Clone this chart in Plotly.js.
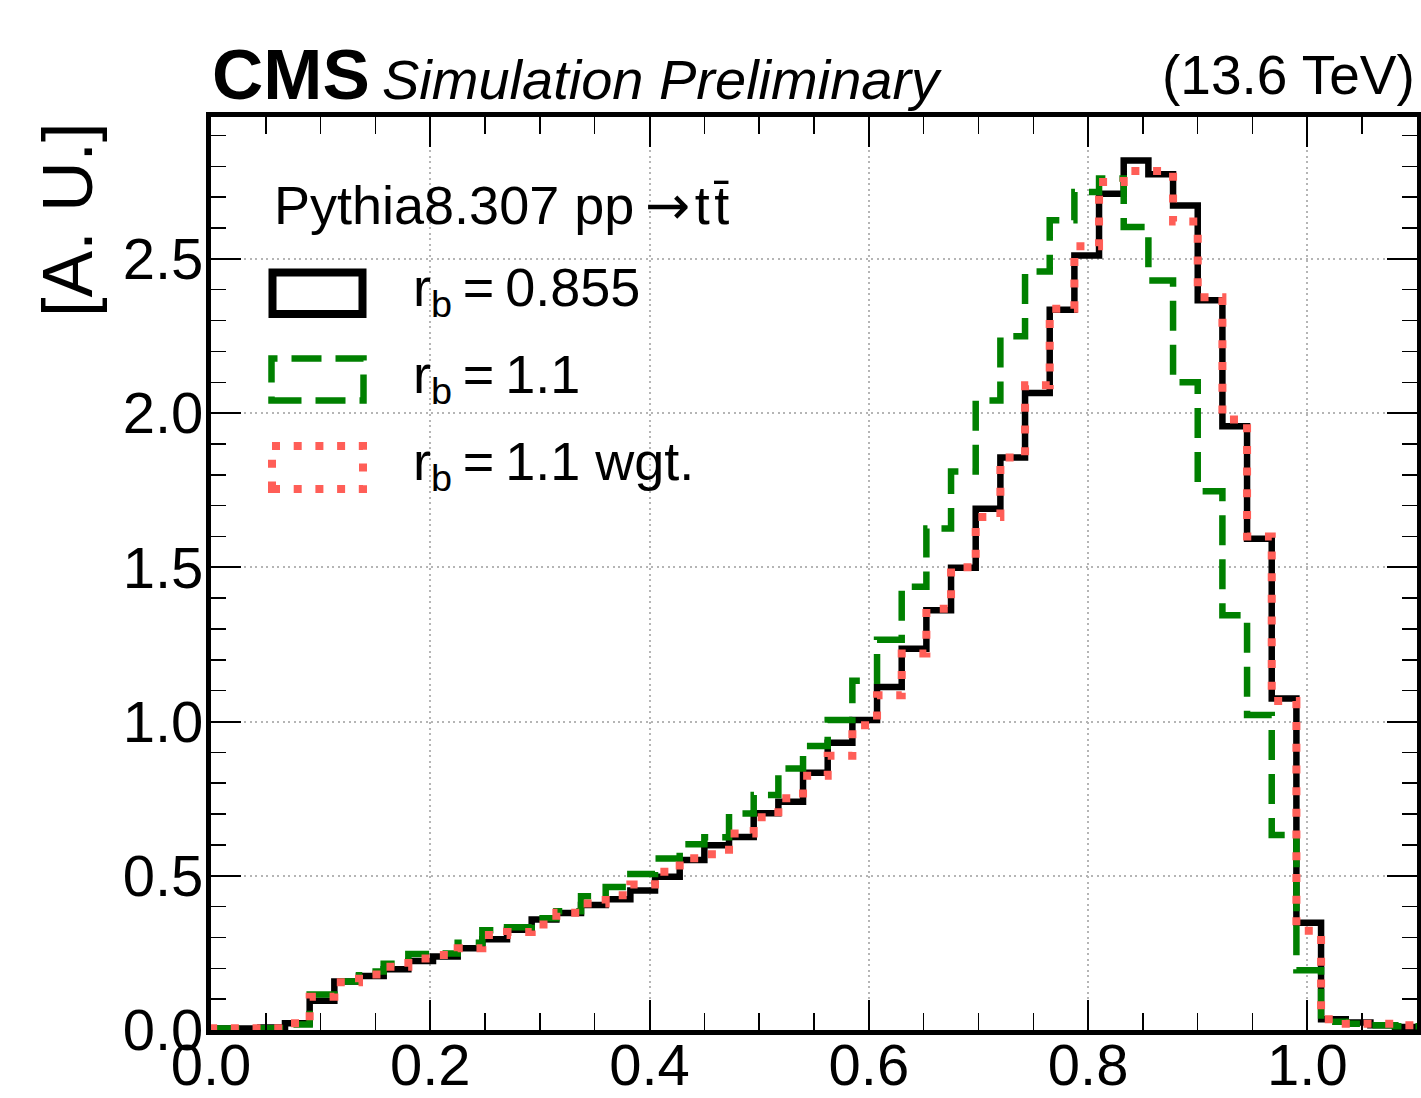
<!DOCTYPE html>
<html>
<head>
<meta charset="utf-8">
<script src="https://cdn.plot.ly/plotly-3.0.1.min.js"></script>
<style>
  html, body { margin: 0; padding: 0; background: #ffffff; }
  #plot { width: 1421px; height: 1098px; }
</style>
</head>
<body>
<div id="plot"></div>
<script>
// Normalised distributions of x_b, 49 bins of width 0.0225
const binEdges = [
  0, 0.0225, 0.045, 0.0675, 0.09, 0.1125, 0.135, 0.1575, 0.18, 0.2025,
  0.225, 0.2475, 0.27, 0.2925, 0.315, 0.3375, 0.36, 0.3825, 0.405, 0.4275,
  0.45, 0.4725, 0.495, 0.5175, 0.54, 0.5625, 0.585, 0.6075, 0.63, 0.6525,
  0.675, 0.6975, 0.72, 0.7425, 0.765, 0.7875, 0.81, 0.8325, 0.855, 0.8775,
  0.9, 0.9225, 0.945, 0.9675, 0.99, 1.0125, 1.035, 1.0575, 1.08, 1.1025
];

// r_b = 0.855
const rb0855 = [
  0.005, 0.005, 0.008, 0.022, 0.095, 0.157, 0.175, 0.197, 0.224, 0.238,
  0.265, 0.294, 0.325, 0.358, 0.379, 0.405, 0.424, 0.452, 0.497, 0.551,
  0.599, 0.626, 0.703, 0.740, 0.834, 0.931, 1.005, 1.112, 1.236, 1.361,
  1.499, 1.690, 1.856, 2.065, 2.335, 2.511, 2.711, 2.819, 2.774, 2.673,
  2.366, 1.957, 1.593, 1.075, 0.348, 0.035, 0.024, 0.015, 0.010
];

// r_b = 1.1
const rb11 = [
  0.005, 0.005, 0.006, 0.018, 0.115, 0.157, 0.190, 0.215, 0.246, 0.248,
  0.283, 0.323, 0.333, 0.362, 0.385, 0.434, 0.464, 0.506, 0.556, 0.602,
  0.625, 0.702, 0.762, 0.848, 0.921, 1.005, 1.132, 1.265, 1.437, 1.626,
  1.811, 2.041, 2.249, 2.459, 2.625, 2.717, 2.761, 2.603, 2.430, 2.100,
  1.747, 1.345, 1.021, 0.632, 0.194, 0.027, 0.020, 0.015, 0.012
];

// r_b = 1.1, reweighted
const rb11wgt = [
  0.006, 0.006, 0.006, 0.022, 0.108, 0.155, 0.180, 0.205, 0.232, 0.243,
  0.265, 0.308, 0.318, 0.342, 0.380, 0.410, 0.437, 0.472, 0.513, 0.557,
  0.570, 0.637, 0.690, 0.751, 0.824, 0.889, 0.988, 1.085, 1.221, 1.366,
  1.500, 1.663, 1.856, 2.090, 2.338, 2.541, 2.749, 2.785, 2.785, 2.621,
  2.376, 1.979, 1.600, 1.067, 0.322, 0.035, 0.020, 0.020, 0.015
];

const seriesNames = ['r<sub>b</sub>\u2009=\u20090.855', 'r<sub>b</sub>\u2009=\u20091.1', 'r<sub>b</sub>\u2009=\u20091.1 wgt.'];
const legendTitle = 'Pythia8.307 pp\u2009<span style="font-family:DejaVu Sans">\u2192</span>\u200At\u200At\u0304';

const FONT = 'Liberation Sans, Arial, Helvetica, sans-serif';
const COLORS = ['#000000', '#008000', '#ff5e57'];
const WIDTHS = [6.5, 6.5, 8];
const DASHES = ['solid', '30px,14px', '8px,13.7px'];

// step histogram: start from zero at the first edge, hold each bin value to the next edge
function stepTrace(values, i) {
  const x = [binEdges[0]].concat(binEdges);
  const y = [0].concat(values, [values[values.length - 1]]);
  return {
    type: 'scatter', mode: 'lines', x: x, y: y,
    line: { shape: 'hv', color: COLORS[i], width: WIDTHS[i], dash: DASHES[i] },
    showlegend: false, hoverinfo: 'skip'
  };
}

const traces = [stepTrace(rb0855, 0), stepTrace(rb11, 1), stepTrace(rb11wgt, 2)];

// plot area in pixels: x 211..1417, y 117..1030
const L = 211, R = 1417, T = 117, B = 1030;
const px = v => (v - L) / (R - L);
const py = v => (B - v) / (B - T);

// legend boxes
const boxes = [
  { x0: 272.5, x1: 362.5, y0: 272.5, y1: 314 },
  { x0: 271.5, x1: 363.5, y0: 358.5, y1: 400.5 },
  { x0: 272, x1: 363, y0: 446, y1: 489 }
];
const shapes = boxes.map((b, i) => ({
  type: 'rect', xref: 'paper', yref: 'paper',
  x0: px(b.x0), x1: px(b.x1), y0: py(b.y1), y1: py(b.y0),
  line: { color: COLORS[i], width: i === 0 ? 8 : WIDTHS[i], dash: DASHES[i] },
  fillcolor: 'rgba(0,0,0,0)'
}));

const labelCentres = [291, 378, 465];
const annotations = seriesNames.map((t, i) => ({
  text: t, xref: 'paper', yref: 'paper', x: px(411), y: py(labelCentres[i]),
  xanchor: 'left', yanchor: 'middle', showarrow: false,
  font: { family: FONT, size: 54, color: '#000' }
}));

annotations.push(
  { text: legendTitle, xref: 'paper', yref: 'paper', x: px(272), y: py(239),
    xanchor: 'left', yanchor: 'bottom', showarrow: false,
    font: { family: FONT, size: 54, color: '#000' } },
  { text: '<b>CMS</b>', xref: 'paper', yref: 'paper', x: px(210), y: py(116),
    xanchor: 'left', yanchor: 'bottom', showarrow: false,
    font: { family: FONT, size: 71, color: '#000' } },
  { text: '<i>Simulation Preliminary</i>', xref: 'paper', yref: 'paper', x: px(380), y: py(113),
    xanchor: 'left', yanchor: 'bottom', showarrow: false,
    font: { family: FONT, size: 56, color: '#000' } },
  { text: '(13.6 TeV)', xref: 'paper', yref: 'paper', x: px(1417), y: py(108),
    xanchor: 'right', yanchor: 'bottom', showarrow: false,
    font: { family: FONT, size: 55, color: '#000' } },
  { text: '[A. U.]', xref: 'paper', yref: 'paper', x: px(68), y: py(220),
    xanchor: 'center', yanchor: 'middle', textangle: -90, showarrow: false,
    font: { family: FONT, size: 70, color: '#000' } }
);

const axisCommon = {
  showline: true, linecolor: '#000', linewidth: 5, mirror: 'ticks',
  ticks: 'inside', tickcolor: '#000', tickwidth: 2, ticklen: 30,
  showgrid: true, gridcolor: '#b5b5b5', gridwidth: 2, griddash: '2px,3.5px',
  zeroline: false, tickformat: '.1f',
  tickfont: { family: FONT, size: 58, color: '#000' }
};

const layout = {
  width: 1421, height: 1098,
  margin: { l: L, r: 1421 - R, t: T, b: 1098 - B, pad: 0 },
  paper_bgcolor: '#fff', plot_bgcolor: '#fff',
  showlegend: false,
  xaxis: Object.assign({}, axisCommon, {
    range: [0, 1.1], tick0: 0, dtick: 0.2, ticklabelstandoff: -20,
    minor: { ticks: 'inside', dtick: 0.05, ticklen: 17, tickwidth: 1.5, tickcolor: '#000', showgrid: false }
  }),
  yaxis: Object.assign({}, axisCommon, {
    range: [0, 2.96], tick0: 0, dtick: 0.5, ticklabelstandoff: -9,
    minor: { ticks: 'inside', dtick: 0.1, ticklen: 15, tickwidth: 1.5, tickcolor: '#000', showgrid: false }
  }),
  shapes: shapes,
  annotations: annotations
};

Plotly.newPlot('plot', traces, layout, { staticPlot: true, displayModeBar: false });
</script>
</body>
</html>
